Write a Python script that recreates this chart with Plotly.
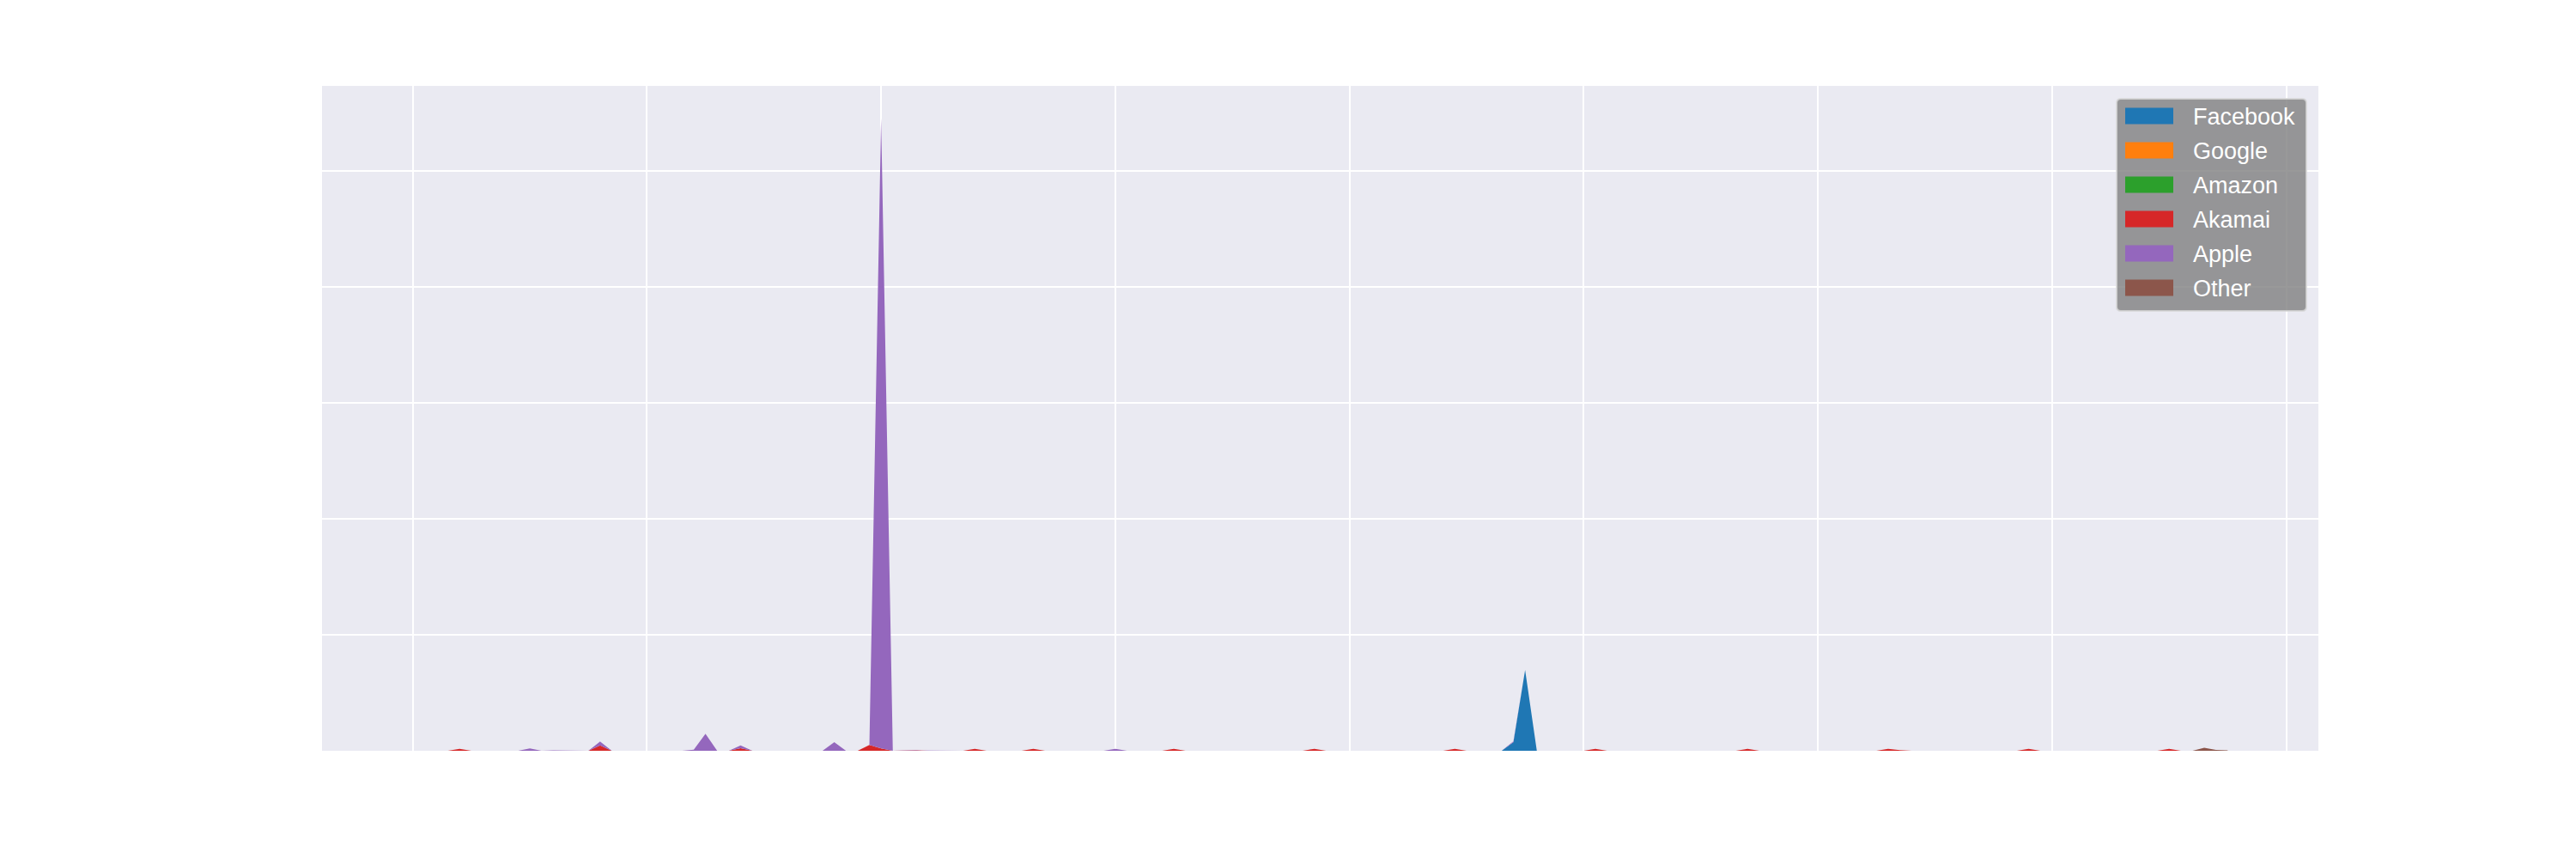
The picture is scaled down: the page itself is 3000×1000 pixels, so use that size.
import plotly.graph_objects as go

# ---- data (index 0..155, mostly zero) ----
n_points = 156
series_names = ["Facebook", "Google", "Amazon", "Akamai", "Apple", "Other"]
series_colors = ["#1f77b4", "#ff7f0e", "#2ca02c", "#d62728", "#9467bd", "#8c564b"]

facebook_idx = [94, 95]
facebook_val = [0.074, 0.696]

google_idx = [127]
google_val = [0.005]

amazon_idx = []
amazon_val = []

akamai_idx = [4, 12, 13, 16, 28, 39, 40, 42, 43, 48, 53, 65, 77, 89, 101, 114, 126, 138, 150]
akamai_val = [0.017, 0.004, 0.004, 0.047, 0.022, 0.05, 0.021, 0.004, 0.004,
              0.016, 0.016, 0.017, 0.017, 0.017, 0.017, 0.017, 0.017, 0.017, 0.017]

apple_idx = [10, 16, 24, 25, 28, 36, 40, 60, 94]
apple_val = [0.02, 0.033, 0.01, 0.146, 0.025, 0.074, 5.43, 0.017, 0.007]

other_idx = [107, 123, 153, 154, 155]
other_val = [0.003, 0.005, 0.025, 0.008, 0.004]

x_vals = list(range(n_points))
x_ticks = [0, 20, 40, 60, 80, 100, 120, 140, 160]
y_ticks = [0, 1, 2, 3, 4, 5]


def build(idx, val):
    arr = [0.0] * n_points
    for i, v in zip(idx, val):
        arr[i] = v
    return arr


series_values = [
    build(facebook_idx, facebook_val),
    build(google_idx, google_val),
    build(amazon_idx, amazon_val),
    build(akamai_idx, akamai_val),
    build(apple_idx, apple_val),
    build(other_idx, other_val),
]

fig = go.Figure()
for name, color, vals in zip(series_names, series_colors, series_values):
    fig.add_trace(go.Scatter(
        x=x_vals, y=vals, name=name, mode="lines",
        stackgroup="one", fillcolor=color,
        line=dict(width=0, color=color),
        showlegend=False, hoverinfo="skip",
    ))

# page body has an 8px margin in the browser; compensate
OFF = 8
W, H = 3000 - 2 * OFF, 1000 - 2 * OFF
PL, PR, PT, PB = 375, 2700, 100, 874   # plot area in screenshot pixels


def fx(px):
    return (px - PL) / (PR - PL)


def fy(py):
    return (PB - py) / (PB - PT)


# ---- custom legend (matplotlib-like) ----
lx0, lx1, ly0, ly1 = 2465, 2686, 115, 362
r = 5
path_paper = (f"M {fx(lx0+r)},{fy(ly0)} L {fx(lx1-r)},{fy(ly0)} Q {fx(lx1)},{fy(ly0)} {fx(lx1)},{fy(ly0+r)} "
              f"L {fx(lx1)},{fy(ly1-r)} Q {fx(lx1)},{fy(ly1)} {fx(lx1-r)},{fy(ly1)} L {fx(lx0+r)},{fy(ly1)} "
              f"Q {fx(lx0)},{fy(ly1)} {fx(lx0)},{fy(ly1-r)} L {fx(lx0)},{fy(ly0+r)} Q {fx(lx0)},{fy(ly0)} {fx(lx0+r)},{fy(ly0)} Z")

shapes = [dict(type="path", xref="paper", yref="paper", path=path_paper,
               fillcolor="rgba(128,128,128,0.8)",
               line=dict(color="rgba(215,215,215,0.8)", width=2), layer="above")]

annotations = []
row_h = 40
for k, (name, color) in enumerate(zip(series_names, series_colors)):
    cy = 135 + k * row_h
    shapes.append(dict(type="rect", xref="paper", yref="paper",
                       x0=fx(2475), x1=fx(2531), y0=fy(cy + 9.5), y1=fy(cy - 9.5),
                       fillcolor=color, line=dict(width=0), layer="above"))
    annotations.append(dict(x=fx(2552), y=fy(cy + 1), xref="paper", yref="paper",
                            text=name, showarrow=False, xanchor="left", yanchor="middle",
                            font=dict(family="Liberation Sans, Arial, sans-serif",
                                      size=27, color="white")))

fig.update_layout(
    width=W, height=H,
    margin=dict(l=PL - OFF, r=(3000 - OFF) - PR, t=PT - OFF, b=(1000 - OFF) - PB),
    paper_bgcolor="white",
    plot_bgcolor="#EAEAF2",
    showlegend=False,
    shapes=shapes,
    annotations=annotations,
    xaxis=dict(range=[-7.75, 162.75], tickvals=x_ticks, showticklabels=False,
               showgrid=True, gridcolor="white", gridwidth=2, zeroline=False,
               showline=False, ticks=""),
    yaxis=dict(range=[0, 5.73], tickvals=y_ticks, showticklabels=False,
               showgrid=True, gridcolor="white", gridwidth=2, zeroline=False,
               showline=False, ticks=""),
)

fig.write_html("out.html")
